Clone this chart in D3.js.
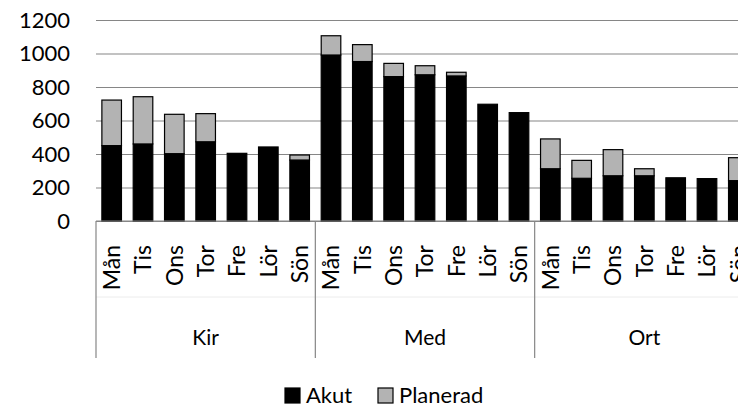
<!DOCTYPE html>
<html>
<head>
<meta charset="utf-8">
<script src="https://cdn.jsdelivr.net/npm/d3@7"></script>
<style>
    body { margin: 0; background: #fff; }
    #chart-area { width: 738px; height: 407px; overflow: hidden; }
    text { font-family: Lato, "Open Sans", sans-serif; fill: #000; }
</style>
</head>
<body>
<div id="chart-area"></div>
<script>

var groups = ["Kir", "Med", "Ort"];
var days = ["Mån", "Tis", "Ons", "Tor", "Fre", "Lör", "Sön"];
var yTicks = [0, 200, 400, 600, 800, 1000, 1200];

// one value per group x day, Kir first, then Med, then Ort
var akut =     [450, 460, 402, 473, 404, 442, 364,
                991, 952, 862, 873, 866, 697, 647,
                312, 255, 270, 270, 258, 253, 241];
var planerad = [272, 282, 235, 168, 0, 0, 30,
                115, 101, 79, 54, 22, 0, 0,
                178, 107, 156, 42, 0, 0, 137];

var seriesNames = ["Akut", "Planerad"];
var seriesColors = ["#000000", "#b3b3b3"];

/*
 *  StackedDayVis - Object constructor function
 *  @param _parentElement   -- HTML element in which to draw the visualization
 */
StackedDayVis = function(_parentElement) {
    this.parentElement = _parentElement;
    this.initVis();
}

StackedDayVis.prototype.initVis = function() {
    var vis = this;

    // plot runs a bit past the right edge, like the reference
    vis.margin = { top: 20, right: -16, bottom: 186, left: 96 };
    vis.width = 738 - vis.margin.left - vis.margin.right,
        vis.height = 407 - vis.margin.top - vis.margin.bottom;

    vis.svg = d3.select("#" + vis.parentElement).append("svg")
        .attr("width", 738)
        .attr("height", 407)
        .append("g")
        .attr("transform", "translate(" + vis.margin.left + "," + vis.margin.top + ")");

    // Scales
    vis.keys = [];
    groups.forEach(function(g) {
        days.forEach(function(d) { vis.keys.push(g + "|" + d); });
    });

    vis.x = d3.scaleBand()
        .domain(vis.keys)
        .range([0, vis.width])
        .paddingInner(0.375)
        .paddingOuter(0.1875);

    vis.xGroup = d3.scaleBand()
        .domain(groups)
        .range([0, vis.width]);

    vis.y = d3.scaleLinear()
        .domain([0, 1200])
        .range([vis.height, 0]);

    vis.wrangleData();
}

StackedDayVis.prototype.wrangleData = function() {
    var vis = this;

    vis.displayData = vis.keys.map(function(k, i) {
        return { key: k, Akut: akut[i], Planerad: planerad[i] };
    });

    vis.stacked = d3.stack().keys(seriesNames)(vis.displayData);

    vis.updateVis();
}

StackedDayVis.prototype.updateVis = function() {
    var vis = this;

    // Gridlines + y labels
    var yAxis = d3.axisLeft(vis.y)
        .tickValues(yTicks)
        .tickFormat(d3.format("d"))
        .tickSize(-vis.width)
        .tickPadding(26);

    vis.svg.append("g")
        .attr("class", "axis y-axis")
        .call(yAxis)
        .call(function(g) {
            g.select(".domain").remove();
            g.selectAll(".tick line").attr("stroke", "#868686").attr("stroke-width", 1.2);
            g.selectAll(".tick text")
                .attr("font-size", 22)
                .attr("font-family", "Lato, sans-serif")
                .attr("fill", "#000");
        });

    // Bars
    vis.svg.selectAll(".layer")
        .data(vis.stacked)
        .enter()
        .append("g")
        .attr("class", "layer")
        .attr("fill", function(d, i) { return seriesColors[i]; })
        .selectAll("rect")
        .data(function(d) { return d.filter(function(s) { return s[1] > s[0]; }); })
        .enter()
        .append("rect")
        .attr("x", function(d) { return vis.x(d.data.key); })
        .attr("width", vis.x.bandwidth())
        .attr("y", function(d) { return vis.y(d[1]); })
        .attr("height", function(d) { return vis.y(d[0]) - vis.y(d[1]); })
        .attr("stroke", "#000")
        .attr("stroke-width", 1.2);

    // Category axis (two levels)
    var axisGroup = vis.svg.append("g")
        .attr("transform", "translate(0," + vis.height + ")");

    axisGroup.append("line")
        .attr("x1", 0).attr("x2", vis.width)
        .attr("stroke", "#868686").attr("stroke-width", 1.2);

    axisGroup.append("line")
        .attr("x1", 0).attr("x2", vis.width)
        .attr("y1", 76).attr("y2", 76)
        .attr("stroke", "#ececec");

    axisGroup.selectAll(".sep")
        .data(groups.concat(["end"]))
        .enter()
        .append("line")
        .attr("class", "sep")
        .attr("x1", function(d, i) { return i * vis.xGroup.bandwidth(); })
        .attr("x2", function(d, i) { return i * vis.xGroup.bandwidth(); })
        .attr("y1", 0)
        .attr("y2", 137)
        .attr("stroke", "#868686")
        .attr("stroke-width", 1.2);

    axisGroup.selectAll(".day-label")
        .data(vis.keys)
        .enter()
        .append("text")
        .attr("class", "day-label")
        .attr("transform", function(d) {
            return "translate(" + (vis.x(d) + vis.x.bandwidth() / 2) + ",24) rotate(-90)";
        })
        .attr("dy", "0.36em")
        .attr("font-size", 23)
        .style("text-anchor", "end")
        .text(function(d) { return d.split("|")[1]; });

    axisGroup.selectAll(".group-label")
        .data(groups)
        .enter()
        .append("text")
        .attr("class", "group-label")
        .attr("x", function(d) { return vis.xGroup(d) + vis.xGroup.bandwidth() / 2; })
        .attr("y", 124)
        .attr("font-size", 21)
        .style("text-anchor", "middle")
        .text(function(d) { return d; });

    // Legend
    var legend = d3.select("#" + vis.parentElement).select("svg")
        .append("g")
        .attr("transform", "translate(285,388)");

    var legendX = [0, 93];
    var item = legend.selectAll(".legend-item")
        .data(seriesNames)
        .enter()
        .append("g")
        .attr("class", "legend-item")
        .attr("transform", function(d, i) { return "translate(" + legendX[i] + ",0)"; });

    item.append("rect")
        .attr("width", 15)
        .attr("height", 15)
        .attr("fill", function(d, i) { return seriesColors[i]; })
        .attr("stroke", "#000")
        .attr("stroke-width", 1.2);

    item.append("text")
        .attr("x", 21)
        .attr("y", 15)
        .attr("font-size", 22)
        .text(function(d) { return d; });
}

var chart = new StackedDayVis("chart-area");

</script>
</body>
</html>
